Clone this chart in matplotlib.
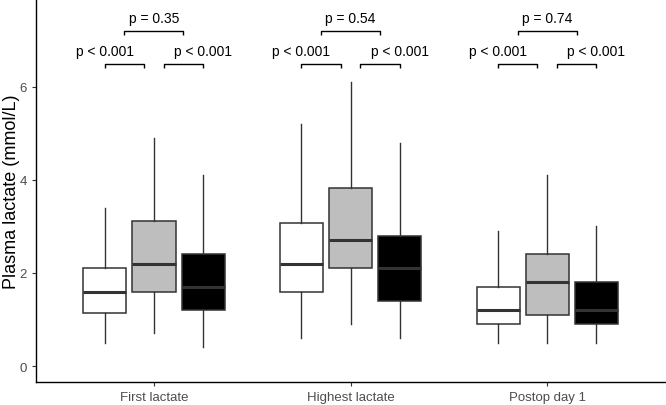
import matplotlib
matplotlib.use("Agg")
import matplotlib.pyplot as plt

# --- data ---
groups = ["First lactate", "Highest lactate", "Postop day 1"]
fills = ["white", "#BEBEBE", "black"]
offsets = [-0.25, 0.0, 0.25]

# one list per box colour (white, grey, black), one value per group
whislo = [[0.5, 0.6, 0.5], [0.7, 0.9, 0.5], [0.4, 0.6, 0.5]]
q1 = [[1.13, 1.6, 0.9], [1.6, 2.1, 1.1], [1.2, 1.4, 0.9]]
med = [[1.6, 2.2, 1.2], [2.2, 2.7, 1.8], [1.7, 2.1, 1.2]]
q3 = [[2.1, 3.08, 1.7], [3.12, 3.83, 2.4], [2.4, 2.8, 1.8]]
whishi = [[3.4, 5.2, 2.9], [4.9, 6.1, 4.1], [4.1, 4.8, 3.0]]

p_left = ["p < 0.001", "p < 0.001", "p < 0.001"]
p_right = ["p < 0.001", "p < 0.001", "p < 0.001"]
p_outer = ["p = 0.35", "p = 0.54", "p = 0.74"]

plt.rcParams["font.family"] = ["Liberation Sans", "DejaVu Sans"]

fig = plt.figure(figsize=(6.66, 4.06), dpi=100)
ax = fig.add_axes([0.054, 0.057, 0.945, 0.941])

edge = "#333333"
for k, fill in enumerate(fills):
    stats = []
    for g in range(len(groups)):
        stats.append(dict(whislo=whislo[k][g], q1=q1[k][g], med=med[k][g],
                          q3=q3[k][g], whishi=whishi[k][g], fliers=[]))
    pos = [g + 1 + offsets[k] for g in range(len(groups))]
    ax.bxp(stats, positions=pos, widths=0.22, patch_artist=True,
           showcaps=False, showfliers=False,
           boxprops=dict(facecolor=fill, edgecolor=edge, linewidth=1.1),
           medianprops=dict(color=edge, linewidth=2.2),
           whiskerprops=dict(color=edge, linewidth=1.0))


def bracket(x0, x1, y, tip):
    ax.plot([x0, x0, x1, x1], [y - tip, y, y, y - tip], color="black",
            linewidth=1.0, solid_capstyle="butt", clip_on=False)


for g in range(len(groups)):
    c = g + 1
    bracket(c - 0.25, c - 0.05, 6.49, 0.09)
    bracket(c + 0.05, c + 0.25, 6.49, 0.09)
    bracket(c - 0.15, c + 0.15, 7.2, 0.09)
    ax.text(c - 0.25, 6.62, p_left[g], ha="center", va="bottom", fontsize=10)
    ax.text(c + 0.25, 6.62, p_right[g], ha="center", va="bottom", fontsize=10)
    ax.text(c, 7.33, p_outer[g], ha="center", va="bottom", fontsize=10)

ax.set_xlim(0.4, 3.6)
ax.set_ylim(-0.34, 7.87)
ax.set_xticks([1, 2, 3])
ax.set_xticklabels(groups)
ax.set_yticks([0, 2, 4, 6])
ax.set_ylabel("Plasma lactate (mmol/L)", fontsize=13)
ax.yaxis.set_label_coords(-0.026, 0.5)

for side in ["top", "right"]:
    ax.spines[side].set_visible(False)
for side in ["left", "bottom"]:
    ax.spines[side].set_color("black")
    ax.spines[side].set_linewidth(1.0)
ax.tick_params(axis="both", colors=edge, labelcolor="#4D4D4D",
               labelsize=9.5, length=3, width=0.8)

fig.savefig("out.png", dpi=100)
